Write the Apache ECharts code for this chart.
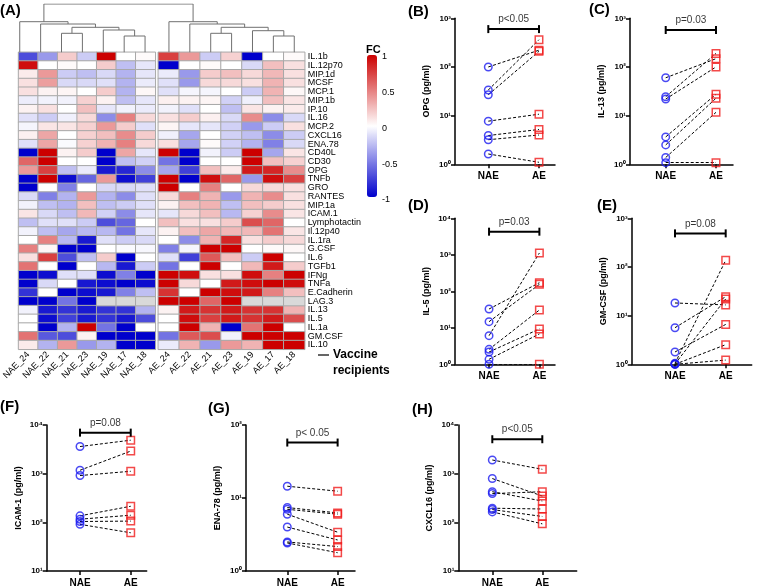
<!DOCTYPE html>
<html><head><meta charset="utf-8">
<script src="https://cdn.jsdelivr.net/npm/echarts@6.0.0/dist/echarts.min.js"></script>
<style>html,body{margin:0;padding:0;background:#fff}#c{width:760px;height:588px}</style>
</head><body><div id="c"></div>
<script>
// ---------- DATA ----------
const rowNames = ['IL.1b','IL.12p70','MIP.1d','MCSF','MCP.1','MIP.1b','IP.10','IL.16','MCP.2','CXCL16','ENA.78','CD40L','CD30','OPG','TNFb','GRO','RANTES','MIP.1a','ICAM.1','Lymphotactin','Il.12p40','IL.1ra','G.CSF','IL.6','TGFb1','IFNg','TNFa','E.Cadherin','LAG.3','IL.13','IL.5','IL.1a','GM.CSF','IL.10'];
const colsNAE = ['NAE_24','NAE_22','NAE_21','NAE_23','NAE_19','NAE_17','NAE_18'];
const colsAE = ['AE_24','AE_22','AE_21','AE_23','AE_19','AE_17','AE_18'];
const fcNAE = [
[-0.7,-0.4,0.2,-0.2,1.0,0.0,0.02],
[0.95,0,0.02,0,0.2,-0.25,-0.1],
[0.08,0.4,-0.2,-0.25,-0.15,-0.3,-0.1],
[0.12,0.38,-0.15,-0.15,-0.12,-0.3,-0.08],
[0.12,0.05,0.04,0,0.2,-0.3,0.03],
[-0.07,-0.05,-0.05,0.18,0.05,-0.25,-0.1],
[0.05,0.12,0,0.25,-0.1,-0.05,-0.08],
[-0.12,-0.2,-0.06,0.15,-0.45,0.5,0.15],
[-0.04,0.1,0.1,0.18,0.4,0.2,-0.12],
[0.06,0.35,0,0.18,0.25,0.45,0.2],
[-0.12,0.35,-0.02,0.18,0.3,0.5,0.15],
[-1,1,0.05,0.2,-1,0.35,-0.1],
[0.6,1,0,0,-1,-0.25,-0.18],
[0.4,0.75,-0.25,-0.08,-0.9,-0.85,-0.45],
[-1,1,-0.95,-0.6,0.4,-0.95,-0.75],
[-1,0,-0.5,0,-0.15,-0.15,-0.12],
[-0.15,-0.5,-0.3,0.4,-0.3,-0.45,-0.12],
[-0.05,-0.25,-0.3,0.25,-0.25,-0.2,-0.12],
[0.1,-0.15,-0.25,0.28,-0.18,-0.45,-0.1],
[-0.25,-0.12,-0.12,-0.2,-0.7,-0.6,0],
[-0.05,-0.25,-0.35,-0.28,-0.28,-0.55,-0.1],
[0,0.5,-0.28,-0.9,-0.12,-0.2,-0.15],
[0.5,0.04,-1,-1,0,-0.02,-0.03],
[0.12,0.75,-0.7,-0.25,0.2,-1,0],
[0.55,0,-1,0,-0.28,-0.9,-0.2],
[-1,-0.95,-0.12,-0.12,-0.95,-0.5,-1],
[-1,-0.15,0,-0.9,-0.95,-1,-0.95],
[-0.8,0,-1,-0.95,-0.9,-0.5,-0.25],
[-1,-1,-0.55,-1,null,null,null],
[-0.05,-0.9,-0.8,-0.9,-0.8,-0.8,-0.3],
[0,-0.95,-0.75,-0.9,-0.8,-0.9,-0.7],
[0,-1,-0.3,1,-0.55,-1,0],
[0.55,-0.65,-0.7,0.05,-1,-1,-1],
[0.08,-0.3,0.4,-0.4,-0.3,-1,-1]
];
const fcAE = [
[0.75,0.4,-0.2,0.18,-1,0,0.02],
[-1,0,0.02,0,-0.15,0.25,0.12],
[-0.08,-0.4,0.2,0.25,0.15,0.28,0.12],
[-0.12,-0.4,0.15,0.15,0.12,0.3,0.12],
[-0.12,-0.04,-0.04,0,-0.2,0.3,0.03],
[0.06,0.05,0.04,-0.18,-0.06,0.25,0.1],
[-0.05,-0.12,0,-0.25,0.1,0.05,0.08],
[0.12,0.2,0.06,-0.15,0.45,-0.45,-0.15],
[0.04,-0.1,-0.1,-0.18,-0.4,-0.2,0.12],
[-0.06,-0.35,0,-0.18,-0.25,-0.45,-0.2],
[0.12,-0.35,0.02,-0.18,-0.3,-0.5,-0.15],
[1,-1,-0.05,-0.2,1,-0.35,0.1],
[-0.55,-1,0,0,1,0.25,0.18],
[-0.35,-0.75,0.25,0.08,0.9,0.85,0.45],
[1,-1,0.95,0.6,-0.4,0.95,0.75],
[1,0,0.5,0,0.15,0.15,0.12],
[0.15,0.5,0.3,-0.4,0.3,0.45,0.12],
[0.05,0.25,0.3,-0.25,0.25,0.2,0.12],
[-0.1,0.15,0.25,-0.28,0.18,0.45,0.1],
[0.25,0.12,0.12,0.2,0.7,0.6,0],
[0.05,0.25,0.35,0.28,0.28,0.55,0.1],
[0,-0.45,0.3,0.85,0.12,0.2,0.15],
[-0.5,-0.04,1,1,0,0.02,0.03],
[-0.12,-0.75,0.65,0.25,-0.2,1,0],
[-0.55,0,1,0,0.28,0.9,0.2],
[1,0.95,0.12,0.12,0.95,0.5,1],
[1,0.15,0,0.9,0.95,1,0.95],
[0.8,0,1,0.95,0.9,0.5,0.25],
[1,1,0.6,1,null,null,null],
[0.05,0.9,0.8,0.9,0.8,0.8,0.3],
[0,0.95,0.75,0.9,0.8,0.9,0.7],
[0,1,0.3,-1,0.55,1,0],
[-0.55,0.65,0.7,-0.05,1,1,1],
[-0.08,0.3,-0.4,0.4,0.3,1,1]
];
// dendrogram merges (hclust style: negative = leaf, positive = earlier merge), third = height
const dendroNAE = [[-6,-7,16.3],[-3,-4,19.0],[-5,1,22.3],[2,3,25.0],[-2,4,28.3],[-1,5,30.6]];
const dendroAE  = [[-6,-7,16.3],[-3,-4,19.0],[-5,1,21.6],[2,3,25.0],[-2,4,28.3],[-1,5,30.6]];
const dendroRootHeight = 48.3;
const fcTicks = [-1,-0.5,0,0.5,1];

const groups = ['NAE','AE'];
const opgNAE = [100,33.6,26.9,7.7,3.9,3.2,1.63];
const opgAE  = [221,363,210,10.7,5.2,4.0,1.1];
const il13NAE = [60,24.5,21.9,3.65,2.5,1.38,1.08];
const il13AE  = [148,190,100,27.5,22.8,11.7,1.08];
const il5NAE = [32.7,14.7,6.08,2.57,2.17,1.37,1.0];
const il5AE  = [172,155,1120,30.7,9.3,6.8,1.0];
const gmcsfNAE = [18.2,5.65,1.79,1.05,1.02,1.0,1.0];
const gmcsfAE  = [16.6,24.5,6.6,137,22,2.53,1.22];
const icamNAE = [3610,1175,915,136,116,104,91];
const icamAE  = [4875,2910,1120,214,140,106,61];
const enaNAE = [14.5,7.4,7.0,6.0,4.0,2.5,2.42];
const enaAE  = [12.4,6.25,6.0,3.4,2.66,2.16,1.78];
const cxclNAE = [1910,794,426,389,195,183,164];
const cxclAE  = [1230,347,274,426,188,132,93];
const pLabels = ['p<0.05','p=0.03','p=0.03','p=0.08','p=0.08','p< 0.05','p<0.05'];
const pLevels = [600,575,4300,490,6970,57.5,5100];

// ---------- CHART ----------
const FONT = 'Liberation Sans';
const chart = echarts.init(document.getElementById('c'));
const grids=[], xAxes=[], yAxes=[], series=[];
const hide = {show:false};

// heatmap grids
grids.push({left:9.3, top:52.3, width:146, height:297});
grids.push({left:158.3, top:52.3, width:146.4, height:297});
[colsNAE, colsAE].forEach((cols,gi)=>{
  xAxes.push({type:'category', gridIndex:gi, data:cols, axisLine:hide, axisTick:hide, splitLine:hide,
    axisLabel:{rotate:45, fontSize:9, margin:4, color:'#000', interval:0}});
  yAxes.push({type:'category', gridIndex:gi, data:rowNames, inverse:true, position: gi? 'right':'left',
    axisLine:hide, axisTick:hide, splitLine:hide,
    axisLabel:{show: gi===1, fontSize:9, margin:3, color:'#000', interval:0}});
});
const naData = [];
[fcNAE, fcAE].forEach((m,gi)=>{
  const d=[];
  m.forEach((row,r)=>row.forEach((v,c)=>{ if(v===null) naData.push({gi,c,r}); else d.push([c,r,v]); }));
  series.push({type:'heatmap', xAxisIndex:gi, yAxisIndex:gi, data:d, silent:true,
    itemStyle:{borderColor:'#a8a8a8', borderWidth:1}, emphasis:{disabled:true}});
});
[0,1].forEach(gi=>{
  series.push({type:'heatmap', xAxisIndex:gi, yAxisIndex:gi, silent:true,
    data:naData.filter(o=>o.gi===gi).map(o=>[o.c,o.r,0]),
    itemStyle:{color:'#d9d9d9', borderColor:'#a8a8a8', borderWidth:1}, emphasis:{disabled:true}});
});

// dendrogram grid
const gapUnits = 3/20.9;
grids.push({left:9.3, top:4, width:295.4, height:48.3});
xAxes.push({type:'value', gridIndex:2, min:0, max:14+gapUnits, show:false});
yAxes.push({type:'value', gridIndex:2, min:0, max:dendroRootHeight, show:false});
function dendro(merges, offset){
  const nodes=[], segs=[];
  merges.forEach(([a,b,h])=>{
    const get=k=> k<0 ? {x:offset+(-k)-0.5, h:0} : nodes[k-1];
    const A=get(a), B=get(b);
    segs.push({coords:[[A.x,A.h],[A.x,h],[B.x,h],[B.x,B.h]]});
    nodes.push({x:(A.x+B.x)/2, h});
  });
  return {segs, root:nodes[nodes.length-1]};
}
const dL = dendro(dendroNAE,0), dR = dendro(dendroAE,7+gapUnits);
const dSegs = dL.segs.concat(dR.segs);
dSegs.push({coords:[[dL.root.x,dL.root.h],[dL.root.x,dendroRootHeight],[dR.root.x,dendroRootHeight],[dR.root.x,dR.root.h]]});
series.push({type:'lines', coordinateSystem:'cartesian2d', xAxisIndex:2, yAxisIndex:2, polyline:true, silent:true,
  data:dSegs, lineStyle:{color:'#707070', width:1, opacity:1}});

// colorbar labels grid
grids.push({left:367, top:57, width:10, height:143});
xAxes.push({type:'value', gridIndex:3, show:false, min:0, max:1});
yAxes.push({type:'value', gridIndex:3, min:-1, max:1, interval:0.5, position:'right',
  axisLine:hide, axisTick:hide, splitLine:hide,
  axisLabel:{fontSize:9, margin:5, color:'#000', customValues:fcTicks}});

// line panels
const sup = {0:'\u2070',1:'\u00b9',2:'\u00b2',3:'\u00b3',4:'\u2074'};
const panels = [
  {name:'OPG (pg/ml)', nae:opgNAE, ae:opgAE, min:1, max:1000, grid:{left:455, top:18.3, width:100, height:146}, xr:[-0.657,1.316]},
  {name:'IL-13 (pg/ml)', nae:il13NAE, ae:il13AE, min:1, max:1000, grid:{left:630, top:18.3, width:103, height:146}, xr:[-0.71,1.338]},
  {name:'IL-5 (pg/ml)', nae:il5NAE, ae:il5AE, min:1, max:10000, grid:{left:455, top:218.3, width:100, height:146}, xr:[-0.676,1.31]},
  {name:'GM-CSF (pg/ml)', nae:gmcsfNAE, ae:gmcsfAE, min:1, max:1000, grid:{left:631.7, top:218.3, width:120, height:146}, xr:[-0.854,1.513]},
  {name:'ICAM-1 (pg/ml)', nae:icamNAE, ae:icamAE, min:10, max:10000, grid:{left:46.7, top:425, width:100, height:147.3}, xr:[-0.657,1.315]},
  {name:'ENA-78 (pg/ml)', nae:enaNAE, ae:enaAE, min:1, max:100, grid:{left:246, top:425, width:109, height:147.3}, xr:[-0.82,1.345]},
  {name:'CXCL16 (pg/ml)', nae:cxclNAE, ae:cxclAE, min:10, max:10000, grid:{left:458.3, top:425, width:118.4, height:147.3}, xr:[-0.68,1.688]}
];
panels.forEach((p,i)=>{
  const gi = 4+i;
  grids.push(p.grid);
  xAxes.push({type:'value', gridIndex:gi, min:p.xr[0], max:p.xr[1],
    axisLine:{onZero:false, lineStyle:{color:'#000', width:1.5}},
    axisTick:{show:true, customValues:[0,1], length:4, lineStyle:{color:'#000', width:1.5}},
    splitLine:hide,
    axisLabel:{customValues:[0,1], formatter:v=>groups[Math.round(v)], fontWeight:'bold', fontSize:10, color:'#000', margin:7}});
  yAxes.push({type:'log', logBase:10, gridIndex:gi, min:p.min, max:p.max,
    axisLine:{show:true, onZero:false, lineStyle:{color:'#000', width:1.5}},
    axisTick:{show:true, length:4, lineStyle:{color:'#000', width:1.5}},
    minorTick:{show:false}, splitLine:hide,
    axisLabel:{formatter:v=>'10'+sup[Math.round(Math.log10(v))], fontSize:8, fontWeight:'bold', color:'#000', margin:4},
    name:p.name, nameLocation:'middle', nameGap:24, nameRotate:90,
    nameTextStyle:{fontSize:9, fontWeight:'bold', color:'#000'}});
  series.push({type:'lines', coordinateSystem:'cartesian2d', xAxisIndex:gi, yAxisIndex:gi, silent:true, z:2,
    data:p.nae.map((v,k)=>({coords:[[0,v],[1,p.ae[k]]]})),
    lineStyle:{color:'#000', width:1, type:[3,2], opacity:1}});
  series.push({type:'scatter', xAxisIndex:gi, yAxisIndex:gi, silent:true, z:3,
    data:p.nae.map(v=>[0,v]), symbol:'circle', symbolSize:7.5,
    itemStyle:{color:'rgba(255,255,255,0)', borderColor:'#1c1cf0', borderWidth:1.5}});
  series.push({type:'scatter', xAxisIndex:gi, yAxisIndex:gi, silent:true, z:3,
    data:p.ae.map(v=>[1,v]), symbol:'rect', symbolSize:7.5,
    itemStyle:{color:'rgba(255,255,255,0)', borderColor:'#f01c1c', borderWidth:1.5}});
  series.push({type:'line', xAxisIndex:gi, yAxisIndex:gi, silent:true, z:3,
    data:[[0,pLevels[i]],[1,pLevels[i]]],
    symbol:'rect', symbolSize:[2,8], showAllSymbol:true,
    itemStyle:{color:'#000'}, lineStyle:{color:'#000', width:2}});
  series.push({type:'scatter', xAxisIndex:gi, yAxisIndex:gi, silent:true, z:4,
    data:[[0.5,pLevels[i]]], symbolSize:1, itemStyle:{color:'rgba(0,0,0,0)'},
    label:{show:true, position:'top', distance:4, formatter:pLabels[i], fontSize:10, color:'#000', fontFamily:FONT}});
});

const panelTitles = [['(A)',0,3],['(B)',408,4],['(C)',589,2],['(D)',408,198],['(E)',597,198],['(F)',0,399],['(G)',208,401],['(H)',412,402]];

chart.setOption({
  animation:false,
  textStyle:{fontFamily:FONT},
  title: panelTitles.map(t=>({text:t[0], left:t[1], top:t[2], padding:0,
    textStyle:{fontSize:15, fontWeight:'bold', color:'#000', fontFamily:FONT}})),
  grid:grids, xAxis:xAxes, yAxis:yAxes,
  visualMap:{type:'continuous', min:-1, max:1, seriesIndex:[0,1], calculable:false, orient:'vertical',
    left:367, top:55, itemWidth:10, itemHeight:142, padding:0, text:null, showLabel:false,
    inRange:{color:['#0000cc','#ffffff','#cc0000']}},
  graphic:[
    {type:'text', left:366, top:44, style:{text:'FC', font:'bold 11px "Liberation Sans"', fill:'#000'}},
    {type:'line', shape:{x1:318, y1:355, x2:329, y2:355}, style:{stroke:'#000', lineWidth:1.2}},
    {type:'text', left:333, top:349, style:{text:'Vaccine', font:'bold 12px "Liberation Sans"', fill:'#000'}},
    {type:'text', left:333, top:365, style:{text:'recipients', font:'bold 12px "Liberation Sans"', fill:'#000'}}
  ],
  series:series
});
</script></body></html>
